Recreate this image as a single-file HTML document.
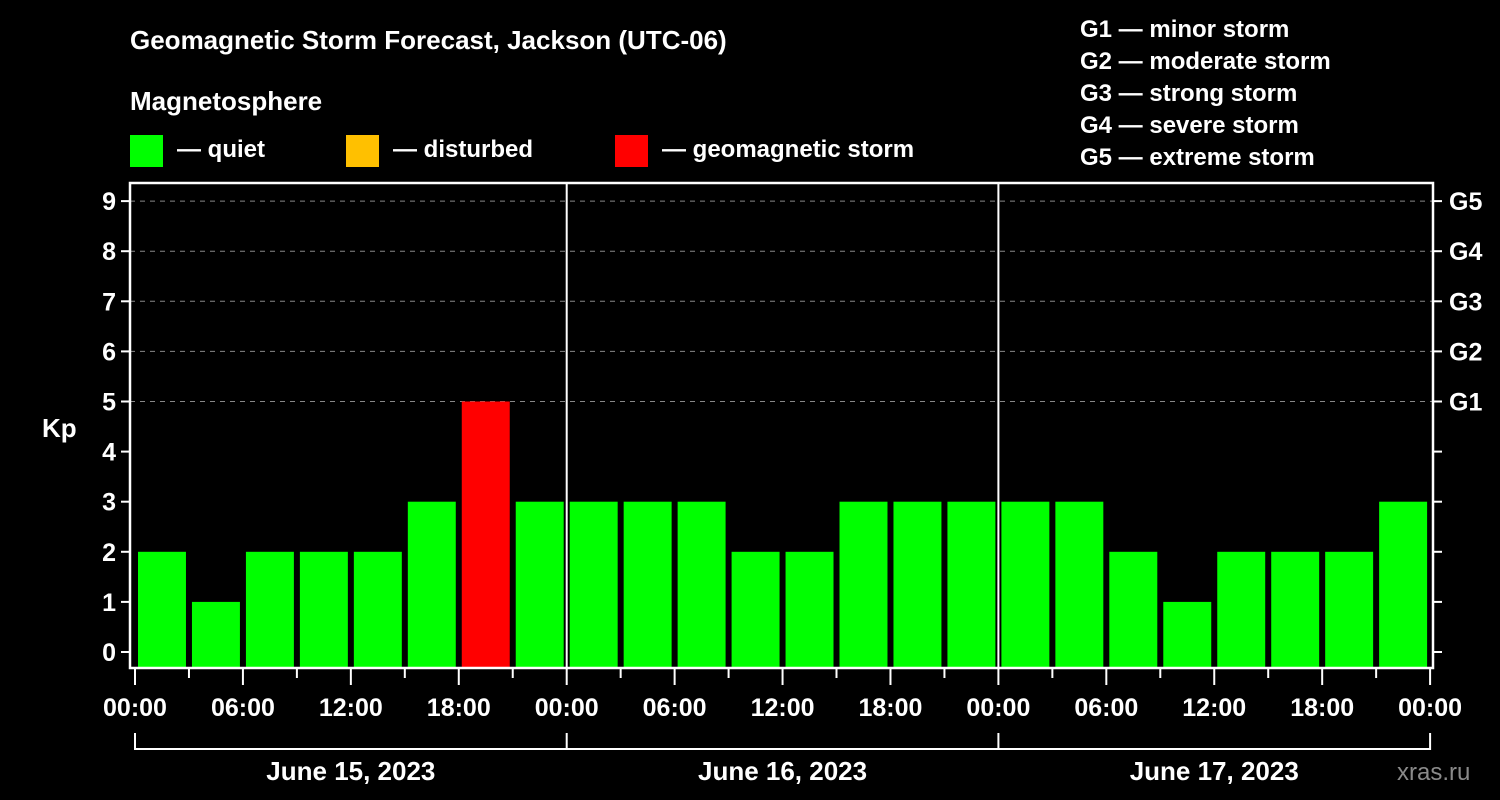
<!DOCTYPE html>
<html><head><meta charset="utf-8"><style>
html,body{margin:0;padding:0;background:#000;width:1500px;height:800px;overflow:hidden}
text{font-family:"Liberation Sans",Arial,sans-serif;font-weight:bold;fill:#fff}
</style></head><body>
<svg id="chart" width="1500" height="800" xmlns="http://www.w3.org/2000/svg">
<rect width="1500" height="800" fill="#000"/>
<text x="130" y="49" font-size="26">Geomagnetic Storm Forecast, Jackson (UTC-06)</text>
<text x="130" y="110" font-size="26">Magnetosphere</text>
<g>
<rect x="130" y="135" width="33" height="32" fill="#00ff00"/>
<text x="177" y="157" font-size="24">— quiet</text>
<rect x="346" y="135" width="33" height="32" fill="#ffc000"/>
<text x="393" y="157" font-size="24">— disturbed</text>
<rect x="615" y="135" width="33" height="32" fill="#ff0000"/>
<text x="662" y="157" font-size="24">— geomagnetic storm</text>
</g>
<g font-size="24">
<text x="1080" y="37">G1 — minor storm</text>
<text x="1080" y="69">G2 — moderate storm</text>
<text x="1080" y="101">G3 — strong storm</text>
<text x="1080" y="133">G4 — severe storm</text>
<text x="1080" y="165">G5 — extreme storm</text>
</g>
<text x="42" y="437" font-size="26">Kp</text>
<text x="1397" y="780" font-size="24" fill="#888" style="fill:#8a8a8a;font-weight:normal">xras.ru</text>
<g id="plot"></g>
</svg>
<script>
const kpValues=[2,1,2,2,2,3,5,3, 3,3,3,2,2,3,3,3, 3,3,2,1,2,2,2,3];
const dayLabels=["June 15, 2023","June 16, 2023","June 17, 2023"];
const hourLabels=["00:00","06:00","12:00","18:00"];
const gLabels=["G1","G2","G3","G4","G5"];
const NS="http://www.w3.org/2000/svg";
const g=document.getElementById('plot');
const L=130,R=1433,T=183,B=668,X0=135,DAYW=431.7;
const yS=v=>652-v*50.1;
const xS=h=>X0+h/24*DAYW;
function mk(tag,a){const e=document.createElementNS(NS,tag);for(const k in a)e.setAttribute(k,a[k]);g.appendChild(e);return e;}
// gridlines
for(let v=5;v<=9;v++){const l=mk('line',{x1:L,x2:R,y1:yS(v),y2:yS(v),stroke:'#888','stroke-dasharray':'5,5','stroke-width':1});

}
// bars
kpValues.forEach((v,i)=>{const x=xS(i*3)+3,w=xS(3)-X0-6;const c=v>=5?'#ff0000':(v>=4?'#ffc000':'#00ff00');
const r=mk('rect',{x:x,y:yS(v),width:w,height:B-yS(v),fill:c});

});
// day separators
for(let d=1;d<3;d++){const l=mk('line',{x1:xS(d*24),x2:xS(d*24),y1:T,y2:B,stroke:'#fff','stroke-width':2});

}
// frame
const f=mk('rect',{x:L,y:T,width:R-L,height:B-T,fill:'none',stroke:'#fff','stroke-width':2.5});


// y ticks & labels
for(let v=0;v<=9;v++){
mk('line',{x1:L-9,x2:L,y1:yS(v),y2:yS(v),stroke:'#fff','stroke-width':2});
mk('line',{x1:R,x2:R+9,y1:yS(v),y2:yS(v),stroke:'#fff','stroke-width':2});
const t=mk('text',{x:L-14,y:yS(v)+9,'font-size':25,'text-anchor':'end'});t.textContent=v;

}
gLabels.forEach((s,i)=>{const t=mk('text',{x:1449,y:yS(5+i)+9,'font-size':25});t.textContent=s;

});
// x ticks
for(let h=0;h<=72;h+=3){const x=xS(h);mk('line',{x1:x,x2:x,y1:B,y2:h%6===0?685:678,stroke:'#fff','stroke-width':2});}
for(let h=0;h<=72;h+=6){if(h%6)continue;const t=mk('text',{x:xS(h),y:716,'font-size':25,'text-anchor':'middle'});t.textContent=hourLabels[(h%24)/6];

}
// day brackets
mk('line',{x1:X0,x2:xS(72),y1:749,y2:749,stroke:'#fff','stroke-width':2});
for(let d=0;d<=3;d++){mk('line',{x1:xS(d*24),x2:xS(d*24),y1:733,y2:750,stroke:'#fff','stroke-width':2});}
dayLabels.forEach((s,d)=>{const t=mk('text',{x:xS(d*24+12),y:780,'font-size':26,'text-anchor':'middle'});t.textContent=s;

});
</script>
</body></html>
